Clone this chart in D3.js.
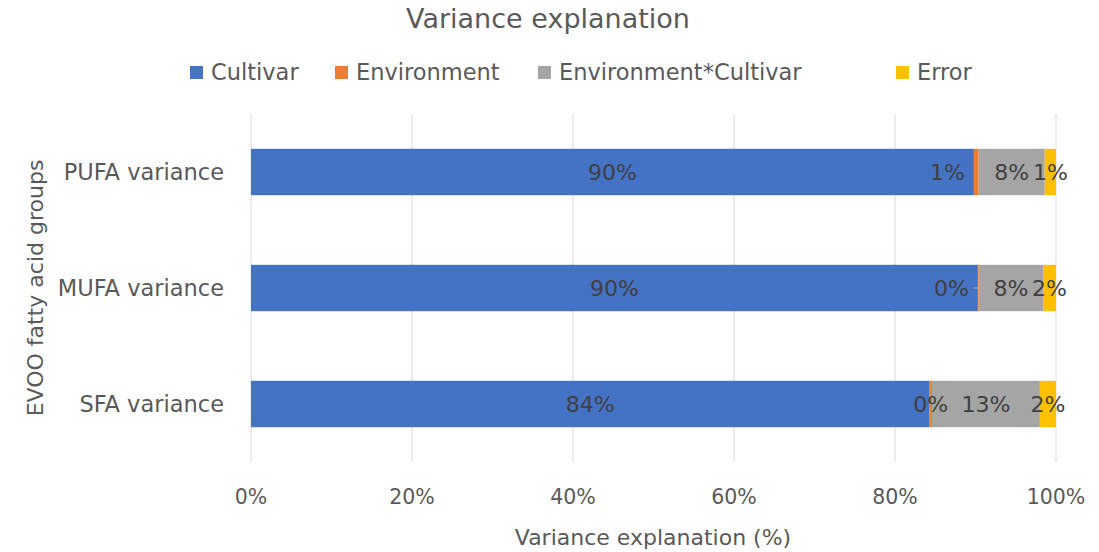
<!DOCTYPE html>
<html><head><meta charset="utf-8">
<script src="https://cdn.jsdelivr.net/npm/d3@7"></script>
<style>body{margin:0;background:#fff;} text{font-family:"DejaVu Sans",sans-serif;}</style>
</head><body>
<svg id="c" width="1099" height="552"></svg>
<script>
const categories = ["PUFA variance", "MUFA variance", "SFA variance"];
const seriesNames = ["Cultivar", "Environment", "Environment*Cultivar", "Error"];
const cultivar = [89.8, 90.3, 84.3];
const environment = [0.6, 0.1, 0.3];
const interaction = [8.2, 8.0, 13.4];
const error = [1.4, 1.6, 2.0];
const xTicks = [0, 20, 40, 60, 80, 100];
const colors = ["#4472C4", "#ED7D31", "#A5A5A5", "#FFC000"];

const svg = d3.select("#c");
const L = 251, R = 1056, T = 114, B = 462;
const x = d3.scaleLinear().domain([0, 100]).range([L, R]);
const y = d3.scaleBand().domain(categories).range([T, B]).paddingInner(0.6).paddingOuter(0.3);
const txt = "#595959";

svg.append("text").attr("x", 548).attr("y", 28).attr("text-anchor", "middle")
  .attr("font-size", 27).attr("fill", txt).text("Variance explanation");

svg.append("g").selectAll("line").data(xTicks).join("line")
  .attr("x1", d => x(d)).attr("x2", d => x(d)).attr("y1", T).attr("y2", B)
  .attr("stroke", "#d9d9d9").attr("stroke-width", 1);

const table = categories.map((c, i) => ({cat: c, Cultivar: cultivar[i], Environment: environment[i],
  "Environment*Cultivar": interaction[i], Error: error[i]}));
const stacked = d3.stack().keys(seriesNames)(table);

const g = svg.append("g");
stacked.forEach((s, si) => {
  g.append("g").attr("fill", colors[si]).selectAll("rect").data(s).join("rect")
    .attr("x", d => x(d[0])).attr("width", d => x(d[1]) - x(d[0]))
    .attr("y", d => y(d.data.cat)).attr("height", y.bandwidth());
});

const fs = 22;
const lab = svg.append("g").attr("font-size", fs).attr("fill", "#404040");
table.forEach((row, ri) => {
  const cy = y(row.cat) + y.bandwidth() / 2;
  const pos = stacked.map(s => { const d = s[ri]; return {c: (x(d[0]) + x(d[1])) / 2, s: x(d[0]), e: x(d[1]), v: d[1] - d[0]}; });
  const texts = pos.map(p => Math.round(p.v) + "%");
  const nodes = pos.map((p, i) => lab.append("text").attr("x", p.c).attr("y", cy).attr("dy", "0.35em")
      .attr("text-anchor", "middle").text(texts[i]));
  const w = nodes.map(n => n.node().getComputedTextLength());
  const p = pos[1];
  const right = p.c + w[1] / 2, nextLeft = pos[2].c - w[2] / 2;
  if (right + 8 > nextLeft) {
    const cx = p.s - 9;
    nodes[1].attr("x", cx).attr("text-anchor", "end");
    if (p.v < 0.3) {
      lab.append("line").attr("x1", cx + 4).attr("x2", p.s).attr("y1", cy).attr("y2", cy)
        .attr("stroke", "#a6a6a6").attr("stroke-width", 1);
    }
  }
});

svg.append("g").attr("font-size", 20.5).attr("fill", txt).selectAll("text").data(xTicks).join("text")
  .attr("x", d => x(d)).attr("y", 504).attr("text-anchor", "middle").text(d => d + "%");
svg.append("g").attr("font-size", 22.5).attr("fill", txt).selectAll("text").data(categories).join("text")
  .attr("x", 224).attr("y", d => y(d) + y.bandwidth() / 2).attr("dy", "0.35em")
  .attr("text-anchor", "end").text(d => d);

svg.append("text").attr("x", 653).attr("y", 545).attr("text-anchor", "middle")
  .attr("font-size", 22).attr("fill", txt).text("Variance explanation (%)");
svg.append("text").attr("transform", "translate(43,288) rotate(-90)").attr("text-anchor", "middle")
  .attr("font-size", 22).attr("fill", txt).text("EVOO fatty acid groups");

const legX = [190, 335, 538, 896];
const leg = svg.append("g");
seriesNames.forEach((n, i) => {
  leg.append("rect").attr("x", legX[i]).attr("y", 66).attr("width", 13).attr("height", 13).attr("fill", colors[i]);
  leg.append("text").attr("x", legX[i] + 21).attr("y", 72).attr("dy", "0.35em")
    .attr("font-size", 22.5).attr("fill", txt).text(n);
});
</script>
</body></html>
